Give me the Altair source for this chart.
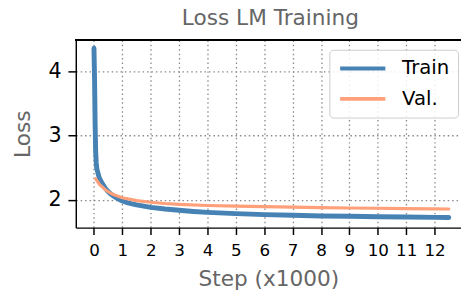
import altair as alt
import pandas as pd

# Train loss (step in thousands)
train_steps = [0.0, 0.02, 0.04, 0.06, 0.08, 0.1, 0.15, 0.2, 0.3, 0.4, 0.5, 0.6, 0.7, 0.8, 1.0,
               1.2, 1.5, 2.0, 2.5, 3.0, 3.5, 4.0, 5.0, 6.0, 7.0, 8.0, 9.0, 10.0, 11.0, 12.0, 12.5]
train_loss = [4.36, 3.9, 3.2, 2.75, 2.58, 2.49, 2.4, 2.33, 2.25, 2.18, 2.13, 2.09, 2.06, 2.03, 1.985,
              1.955, 1.925, 1.885, 1.86, 1.84, 1.822, 1.808, 1.788, 1.772, 1.762, 1.752, 1.746, 1.74, 1.735, 1.73, 1.728]

# Validation loss
val_steps = [0.06, 0.2, 0.4, 0.6, 0.8, 1.0, 1.5, 2.0, 2.5, 3.0, 4.0, 5.0, 6.0, 7.0, 8.0,
             9.0, 10.0, 11.0, 12.0, 12.5]
val_loss = [2.33, 2.24, 2.16, 2.1, 2.065, 2.035, 1.99, 1.965, 1.945, 1.932, 1.915, 1.905, 1.897, 1.89, 1.882,
            1.876, 1.871, 1.866, 1.862, 1.86]

series_names = ["Train", "Val."]
series_colors = ["#4682b4", "#ffa07a"]
x_ticks = list(range(0, 13))
y_ticks = [2, 3, 4]

train_df = pd.DataFrame({"step": train_steps, "loss": train_loss, "series": "Train"})
val_df = pd.DataFrame({"step": val_steps, "loss": val_loss, "series": "Val."})

W, H = 392, 191
FONT = "DejaVu Sans"

color = alt.Color(
    "series:N",
    scale=alt.Scale(domain=series_names, range=series_colors),
    legend=alt.Legend(
        title=None, orient="none", legendX=258, legendY=10,
        symbolType="stroke", symbolSize=2116, symbolStrokeWidth=4,
        labelFontSize=20, labelFont=FONT, labelColor="black", labelOffset=15,
        clipHeight=20, rowPadding=11, padding=9,
        fillColor="rgba(255,255,255,0.85)", strokeColor="#cccccc", cornerRadius=4,
    ),
)

x = alt.X(
    "step:Q",
    scale=alt.Scale(domain=[-0.64, 12.93], nice=False, zero=False),
    axis=alt.Axis(values=x_ticks, title="Step (x1000)", labelFontSize=17, tickSize=7,
                  labelPadding=8, titlePadding=11, format="d"),
)
y = alt.Y(
    "loss:Q",
    scale=alt.Scale(domain=[1.57, 4.49], nice=False, zero=False),
    axis=alt.Axis(values=y_ticks, title="Loss", labelFontSize=21, tickSize=8,
                  labelPadding=7, titlePadding=14, format="d"),
)

train_line = alt.Chart(train_df).mark_line(strokeWidth=5, strokeJoin="round", strokeCap="round").encode(
    x=x, y=y, color=color, order="step:Q")
val_line = alt.Chart(val_df).mark_line(strokeWidth=3.2, strokeJoin="round", strokeCap="round").encode(
    x=x, y=y, color=color, order="step:Q")
top_spine = alt.Chart(train_df).mark_rule(color="black", strokeWidth=1.5).encode(
    x=alt.value(0), x2=alt.value(W), y=alt.value(0))

chart = alt.layer(train_line, val_line, top_spine).properties(
    width=W, height=H,
    title=alt.TitleParams("Loss LM Training", fontSize=22, font=FONT, color="#666666",
                          fontWeight="normal", offset=9, anchor="middle", frame="group", dx=2),
    autosize=alt.AutoSizeParams(type="none"),
    padding={"left": 69, "top": 30, "right": 0, "bottom": 63},
).configure_view(stroke=None).configure_axis(
    labelFont=FONT, titleFont=FONT, labelColor="black", titleColor="#666666",
    titleFontWeight="normal", titleFontSize=22,
    domainColor="black", domainWidth=1.5, tickColor="black", tickWidth=1.5,
    grid=True, gridColor="#888888", gridDash=[1.5, 3], gridWidth=1.3, gridOpacity=1,
)

chart.save("out.html", embed_options={"renderer": "svg", "actions": False})
